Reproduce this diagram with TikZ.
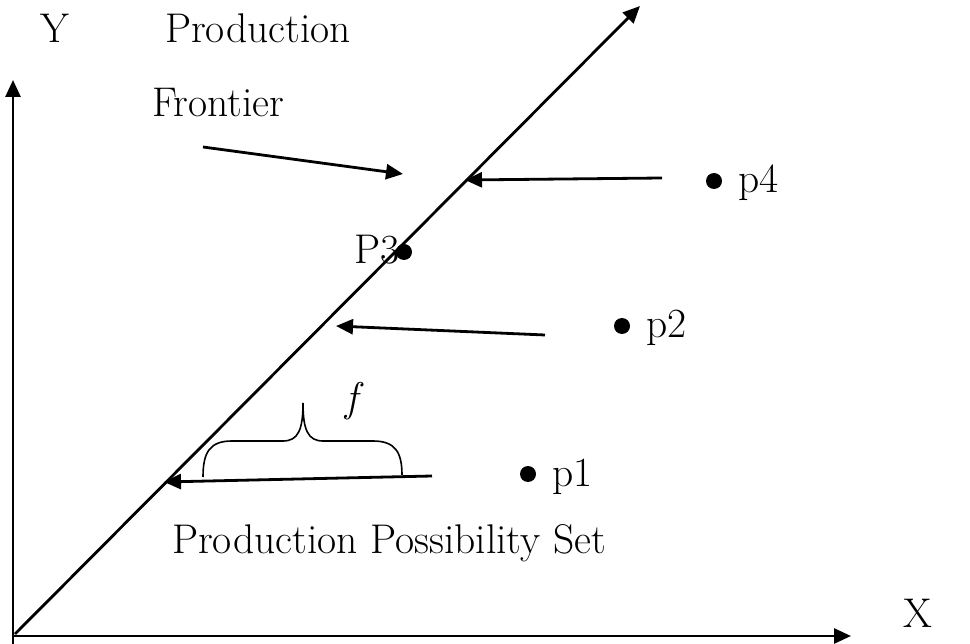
\documentclass[tikz,border=0pt]{standalone}
\usepackage{fontspec}
\usetikzlibrary{arrows.meta}
\begin{document}
\begin{tikzpicture}[x=1pt,y=-1pt,
  line/.style={line width=2.8pt},
  arr/.style={line width=2.8pt,-{Triangle[length=17pt,width=15pt]}},
  lbl/.style={anchor=base west,inner sep=0pt,font=\fontsize{41.5}{48}\selectfont},
  dot/.style={circle,fill=black,inner sep=0pt,minimum size=16pt}]
\useasboundingbox (0,0) rectangle (970,644);
% axes
\coordinate (O) at (13,636);
\coordinate (Ybot) at (13,644);
\coordinate (Ytop) at (13,80);
\coordinate (Xend) at (851,636);
\draw[arr] (Ybot) -- (Ytop);
\draw[arr] (O) -- (Xend);
% frontier
\coordinate (F0) at (15,634);
\coordinate (F1) at (640,6);
\draw[arr] (F0) -- (F1);
% labels
\node[lbl] (ylab) at (40,43) {Y};
\node[lbl] (prod) at (165,43) {Production};
\node[lbl] (front) at (152,117) {Frontier};
\node[lbl] (pps) at (172,553) {Production Possibility Set};
\node[lbl] (xlab) at (903,627) {X};
% points
\node[dot] (d4) at (714,181) {};
\node[lbl] (p4) at (738,193) {p4};
\node[dot] (d2) at (622,326) {};
\node[lbl] (p2) at (646,338) {p2};
\node[dot] (d1) at (528,474) {};
\node[lbl] (p1) at (552,486) {p1};
\node[dot] (d3) at (404,252) {};
\node[lbl,anchor=base east] (p3) at (400,264) {P3};
% arrows
\coordinate (a0) at (203,147); \coordinate (a1) at (403,174);
\draw[arr] (a0) -- (a1);
\coordinate (b0) at (662,178); \coordinate (b1) at (465,180);
\draw[arr] (b0) -- (b1);
\coordinate (c0) at (545,335); \coordinate (c1) at (336,326);
\draw[arr] (c0) -- (c1);
\coordinate (e0) at (432,476); \coordinate (e1) at (164,482);
\draw[arr] (e0) -- (e1);
% brace
\coordinate (bl) at (203,477);
\coordinate (br) at (402,475);
\coordinate (bt) at (303,403);
\draw[line width=1.6pt] (bl) .. controls (203,452) and (210,441) .. (232,441)
  -- (283,441) .. controls (298,441) and (303,430) .. (bt)
  .. controls (303,430) and (308,441) .. (323,441)
  -- (373,441) .. controls (395,441) and (402,452) .. (br);
\node[lbl,font=\fontsize{41.5}{48}\selectfont\itshape] (f) at (345,412) {f};
\end{tikzpicture}
\end{document}
